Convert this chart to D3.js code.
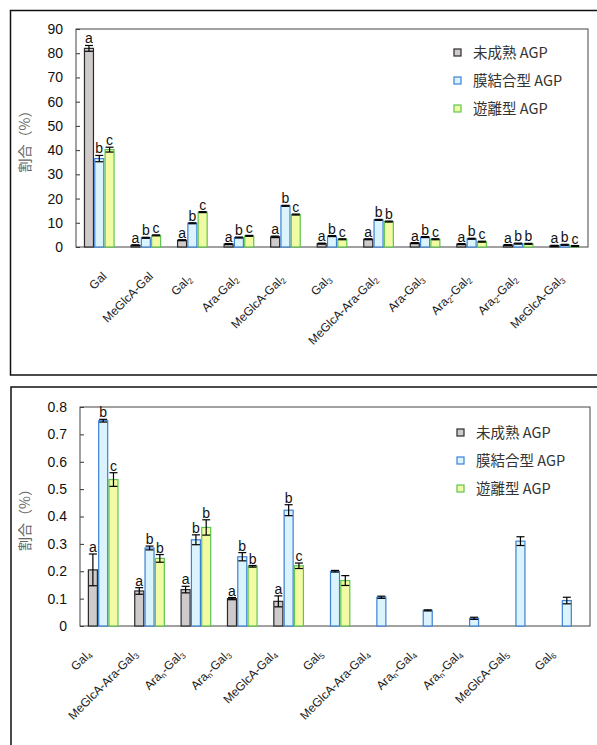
<!DOCTYPE html>
<html>
<head>
<meta charset="utf-8">
<script src="https://cdn.jsdelivr.net/npm/d3@7"></script>
<style>
  body { margin: 0; background: #fff; }
  text { font-family: "Liberation Sans", Arial, sans-serif; }
  .cjk { font-family: "Noto Sans CJK JP", "Liberation Sans", sans-serif; }
</style>
</head>
<body>
<svg id="chart"></svg>
<script>
// ---- data ----
let seriesNames = ["未成熟 AGP", "膜結合型 AGP", "遊離型 AGP"];

// top chart
let cats1 = ["Gal", "MeGlcA-Gal", "Gal_2", "Ara-Gal_2", "MeGlcA-Gal_2", "Gal_3",
             "MeGlcA-Ara-Gal_2", "Ara-Gal_3", "Ara_2-Gal_2", "Ara_2-Gal_2", "MeGlcA-Gal_3"];
let immature1 = [82.0, 0.7, 2.8, 1.2, 4.2, 1.4, 3.2, 1.6, 1.2, 0.8, 0.5];
let bound1    = [36.5, 3.8, 9.8, 3.9, 17.0, 4.5, 11.2, 4.1, 3.4, 1.4, 0.9];
let free1     = [40.2, 4.8, 14.4, 4.6, 13.4, 3.2, 10.5, 3.2, 2.2, 1.3, 0.4];
let immatureErr1 = [1.2, 0.2, 0.2, 0.2, 0.3, 0.2, 0.2, 0.2, 0.2, 0.2, 0.2];
let boundErr1    = [1.3, 0.2, 0.2, 0.2, 0.2, 0.2, 0.2, 0.2, 0.2, 0.2, 0.2];
let freeErr1     = [1.0, 0.2, 0.2, 0.2, 0.2, 0.2, 0.2, 0.2, 0.2, 0.2, 0.2];
let letters1 = [["a","b","c"],["a","b","c"],["a","b","c"],["a","b","c"],["a","b","c"],["a","b","c"],
                ["a","b","b"],["a","b","c"],["a","b","c"],["a","b","b"],["a","b","c"]];
let ticks1 = [0, 10, 20, 30, 40, 50, 60, 70, 80, 90];

// bottom chart
let cats2 = ["Gal_4", "MeGlcA-Ara-Gal_3", "Ara_n-Gal_3", "Ara_n-Gal_3", "MeGlcA-Gal_4", "Gal_5",
             "MeGlcA-Ara-Gal_4", "Ara_n-Gal_4", "Ara_n-Gal_4", "MeGlcA-Gal_5", "Gal_6"];
let immature2 = [0.205, 0.128, 0.133, 0.100, 0.090, null, null, null, null, null, null];
let bound2    = [0.750, 0.285, 0.315, 0.253, 0.423, 0.200, 0.105, 0.057, 0.028, 0.310, 0.093];
let free2     = [0.535, 0.247, 0.360, 0.218, 0.220, 0.166, null, null, null, null, null];
let immatureErr2 = [0.058, 0.012, 0.012, 0.004, 0.020, null, null, null, null, null, null];
let boundErr2    = [0.005, 0.007, 0.018, 0.015, 0.020, 0.003, 0.004, 0.002, 0.004, 0.016, 0.012];
let freeErr2     = [0.025, 0.014, 0.028, 0.003, 0.010, 0.018, null, null, null, null, null];
let letters2 = [["a","b","c"],["a","b","b"],["a","b","b"],["a","b","b"],["a","b","c"],
                [], [], [], [], [], []];
let ticks2 = [0, 0.1, 0.2, 0.3, 0.4, 0.5, 0.6, 0.7, 0.8];

// ---- styling ----
let fills   = ["#cfcbcb", "#dbf3fd", "#f0fba3"];
let strokes = ["#2a2a2a", "#3d80d6", "#5fc453"];

let width = 597, height = 745;
let svg = d3.select("#chart").attr("width", width).attr("height", height);

// outer boxes
svg.append("rect").attr("x", 10.5).attr("y", 10.5).attr("width", 600).attr("height", 364.5)
  .attr("fill", "none").attr("stroke", "#111").attr("stroke-width", 1.5);
svg.append("rect").attr("x", 11).attr("y", 387).attr("width", 600).attr("height", 400)
  .attr("fill", "none").attr("stroke", "#111").attr("stroke-width", 1.5);

// 45deg category label, "_x" -> small lowered x
function addLabel(g, str, bx, by) {
  let t = g.append("text")
    .attr("transform", `translate(${bx},${by}) rotate(-45)`)
    .attr("text-anchor", "end")
    .attr("font-size", "12px")
    .attr("fill", "#222");
  str.split(/_(\w)/).forEach((p, i) => {
    if (p === "") return;
    if (i % 2 === 1) {
      t.append("tspan").attr("font-size", "8px").attr("dy", 2).text(p);
    } else {
      let ts = t.append("tspan").text(p);
      if (i > 0) ts.attr("dy", -2);
    }
  });
}

function drawPanel(cfg) {
  let g = svg.append("g");
  let x = d3.scaleBand().domain(d3.range(cfg.cats.length)).range([cfg.left, cfg.right]);
  let y = d3.scaleLinear().domain([0, cfg.max]).range([cfg.bottom, cfg.top]);

  // y axis, small inward ticks
  let yAxis = d3.axisLeft(y).tickValues(cfg.ticks).tickSize(-4).tickPadding(13)
    .tickFormat(cfg.fmt);
  let ax = g.append("g").attr("transform", `translate(${cfg.left},0)`).call(yAxis);
  ax.select(".domain").remove();
  ax.selectAll(".tick line").attr("stroke", "#333");
  ax.selectAll(".tick text").attr("font-size", "14px").attr("fill", "#111")
    .attr("font-family", "Liberation Sans, Arial, sans-serif");

  // plot frame
  g.append("rect").attr("x", cfg.left).attr("y", cfg.top)
    .attr("width", cfg.right - cfg.left).attr("height", cfg.bottom - cfg.top)
    .attr("fill", "none").attr("stroke", "#444").attr("stroke-width", 1);

  // y title
  g.append("text").attr("class", "cjk")
    .attr("transform", `translate(${cfg.titleX},${(cfg.top + cfg.bottom) / 2}) rotate(-90)`)
    .attr("text-anchor", "middle").attr("font-size", "14px").attr("fill", "#666")
    .text("割合（%）");

  let series = [cfg.s0, cfg.s1, cfg.s2];
  let errs = [cfg.e0, cfg.e1, cfg.e2];
  let step = 10.3, bw = 9;

  series.forEach((vals, si) => {
    let data = vals.map((v, i) => ({ i, v, e: errs[si][i] })).filter(d => d.v != null);
    let cx = d => x(d.i) + x.bandwidth() / 2 + (si - 1) * step;

    g.selectAll(null).data(data).join("rect")
      .attr("x", d => cx(d) - bw / 2)
      .attr("y", d => y(d.v))
      .attr("width", bw)
      .attr("height", d => y(0) - y(d.v))
      .attr("fill", fills[si])
      .attr("stroke", strokes[si])
      .attr("stroke-width", 1.2);

    // error bars
    let eg = g.selectAll(null).data(data).join("g").attr("stroke", "#000").attr("stroke-width", 1.2);
    eg.append("line")
      .attr("x1", cx).attr("x2", cx)
      .attr("y1", d => y(d.v + d.e)).attr("y2", d => y(Math.max(0, d.v - d.e)));
    eg.append("line")
      .attr("x1", d => cx(d) - 4).attr("x2", d => cx(d) + 4)
      .attr("y1", d => y(d.v + d.e)).attr("y2", d => y(d.v + d.e));
    eg.append("line")
      .attr("x1", d => cx(d) - 4).attr("x2", d => cx(d) + 4)
      .attr("y1", d => y(Math.max(0, d.v - d.e))).attr("y2", d => y(Math.max(0, d.v - d.e)));

    // significance letters
    g.selectAll(null).data(data.filter(d => cfg.letters[d.i][si])).join("text")
      .attr("x", cx)
      .attr("y", d => y(d.v + d.e) - 2)
      .attr("text-anchor", "middle")
      .attr("font-size", "14px")
      .attr("fill", "#111")
      .text(d => cfg.letters[d.i][si]);
  });

  // category labels
  cfg.cats.forEach((c, i) => {
    let cxm = x(i) + x.bandwidth() / 2;
    let off = /_\w$/.test(c) ? cfg.subOff : cfg.off;
    addLabel(g, c, cxm + off[0], cfg.bottom + off[1]);
  });

  // legend
  seriesNames.forEach((name, si) => {
    let ly = cfg.legendY + si * 28;
    g.append("rect").attr("x", cfg.legendX).attr("y", ly - 4).attr("width", 7).attr("height", 7)
      .attr("fill", fills[si]).attr("stroke", strokes[si]).attr("stroke-width", 1.2);
    g.append("text").attr("class", "cjk").attr("x", cfg.legendX + 19).attr("y", ly + 5)
      .attr("font-size", "14.5px").attr("fill", "#333").text(name);
  });
}

drawPanel({
  cats: cats1, s0: immature1, s1: bound1, s2: free1,
  e0: immatureErr1, e1: boundErr1, e2: freeErr1, letters: letters1,
  ticks: ticks1, max: 90, fmt: d3.format("d"),
  left: 76, right: 588, top: 29, bottom: 247, titleX: 30,
  off: [8, 30], subOff: [0, 33],
  legendX: 454, legendY: 53
});

drawPanel({
  cats: cats2, s0: immature2, s1: bound2, s2: free2,
  e0: immatureErr2, e1: boundErr2, e2: freeErr2, letters: letters2,
  ticks: ticks2, max: 0.8, fmt: d => d === 0 ? "0" : d3.format(".1f")(d),
  left: 80, right: 590, top: 407, bottom: 626, titleX: 30,
  off: [-11, 29], subOff: [-11, 29],
  legendX: 457, legendY: 433
});
</script>
</body>
</html>
